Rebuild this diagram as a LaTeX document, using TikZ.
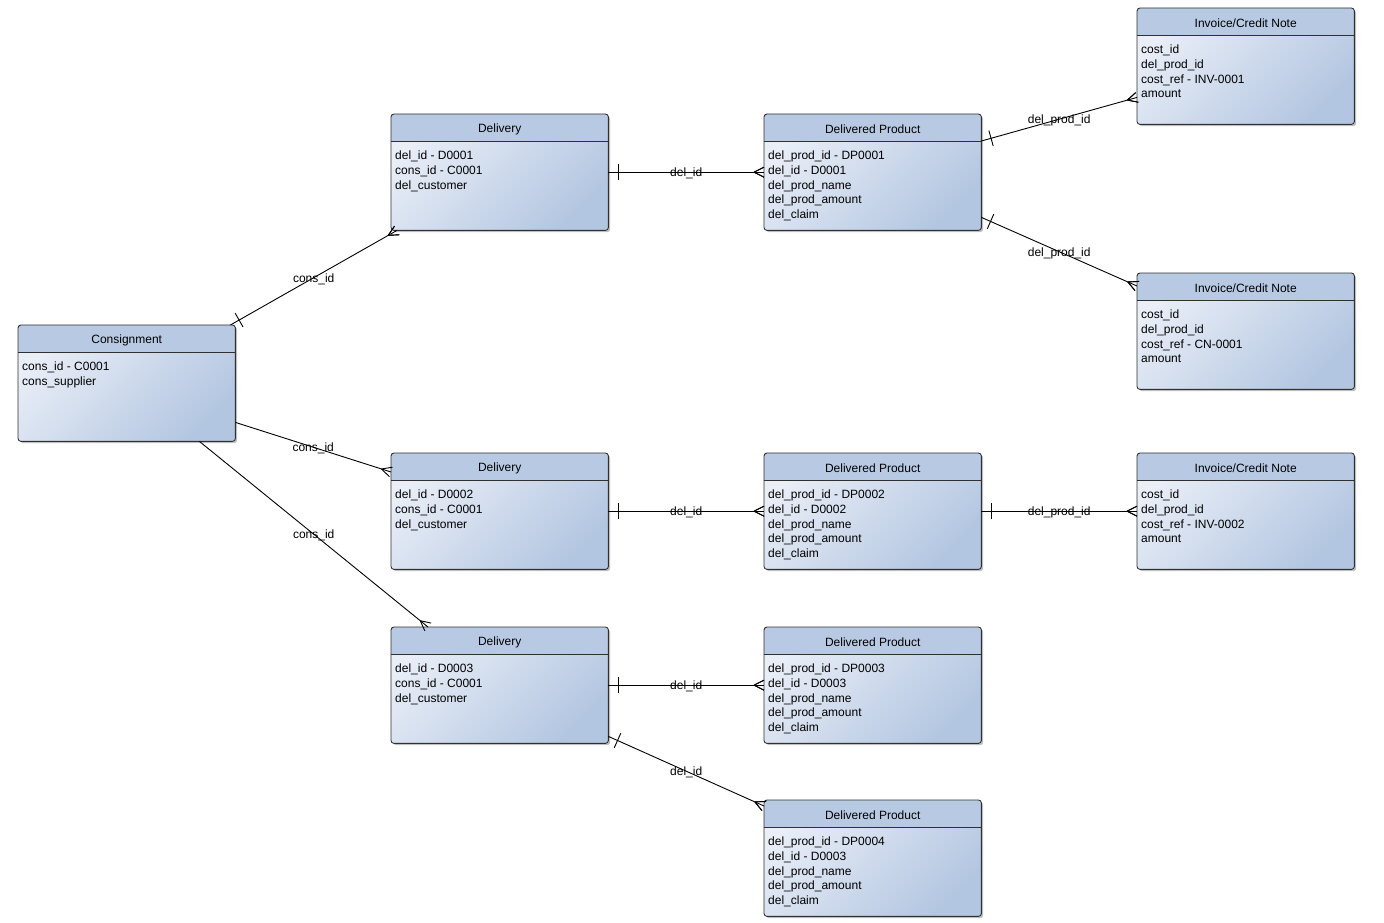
\documentclass[tikz,border=0pt]{standalone}
\usepackage{fontspec}
\setmainfont{Liberation Sans}
\usetikzlibrary{shadows,decorations.markings,positioning}

\definecolor{hdrblue}{HTML}{B8CAE3}
\definecolor{bodylight}{HTML}{E9EEF7}
\definecolor{bodydark}{HTML}{B3C6E1}
\definecolor{edgegrey}{HTML}{303030}

\newcommand\Entity[4]{
  \node[entity,anchor=north west] (#1) at #2 {};
  \fill[hdrblue,rounded corners=3pt] (#1.north west) rectangle ([yshift=-27pt]#1.north east);
  \fill[hdrblue] ([yshift=-10pt]#1.north west) rectangle ([yshift=-27pt]#1.north east);
  \draw[edgegrey,line width=0.9pt] ([yshift=-27pt]#1.north west) -- ([yshift=-27pt]#1.north east);
  \draw[edgegrey,line width=0.9pt,rounded corners=3pt] (#1.north west) rectangle (#1.south east);
  \node[title] (#1-t) at ([yshift=-15pt]#1.north) {#3};
  \node[attr] (#1-a) at ([xshift=4pt,yshift=-37pt]#1.north west) {#4};
}

\tikzset{
  entity/.style={rounded corners=3pt,minimum width=217pt,minimum height=116pt,inner sep=0pt,
    top color=bodylight,bottom color=bodydark,shading angle=45,
    drop shadow={shadow xshift=2pt,shadow yshift=-2pt,opacity=0.25,fill=black}},
  title/.style={font=\fontsize{12}{14}\selectfont,inner sep=0pt},
  attr/.style={anchor=north west,font=\fontsize{12}{14.6}\selectfont,align=left,inner sep=0pt},
  lbl/.style={font=\fontsize{12}{14}\selectfont,inner sep=0pt,yshift=-1.5pt},
  manyfoot/.style={draw=black,line width=0.9pt,postaction={decorate},
    decoration={markings,
      mark=at position -0.01pt with {\draw[line width=0.9pt] (-10pt,0) -- (0,5pt) (-10pt,0) -- (0,-5pt);}}},
  onemany/.style={manyfoot,postaction={decorate,
    decoration={markings,
      mark=at position 10pt with {\draw[line width=0.9pt] (0,-8pt) -- (0,8pt);}}}}
}

\begin{document}
\begin{tikzpicture}[x=1pt,y=-1pt]
\useasboundingbox (0,0) rectangle (1384,923);

\Entity{cons}{(18,325)}{Consignment}{cons\_id - C0001\\cons\_supplier}
\Entity{del1}{(391,114)}{Delivery}{del\_id - D0001\\cons\_id - C0001\\del\_customer}
\Entity{del2}{(391,453)}{Delivery}{del\_id - D0002\\cons\_id - C0001\\del\_customer}
\Entity{del3}{(391,627)}{Delivery}{del\_id - D0003\\cons\_id - C0001\\del\_customer}
\Entity{dp1}{(764,114)}{Delivered Product}{del\_prod\_id - DP0001\\del\_id - D0001\\del\_prod\_name\\del\_prod\_amount\\del\_claim}
\Entity{dp2}{(764,453)}{Delivered Product}{del\_prod\_id - DP0002\\del\_id - D0002\\del\_prod\_name\\del\_prod\_amount\\del\_claim}
\Entity{dp3}{(764,627)}{Delivered Product}{del\_prod\_id - DP0003\\del\_id - D0003\\del\_prod\_name\\del\_prod\_amount\\del\_claim}
\Entity{dp4}{(764,800)}{Delivered Product}{del\_prod\_id - DP0004\\del\_id - D0003\\del\_prod\_name\\del\_prod\_amount\\del\_claim}
\Entity{inv1}{(1137,8)}{Invoice/Credit Note}{cost\_id\\del\_prod\_id\\cost\_ref - INV-0001\\amount}
\Entity{inv2}{(1137,273)}{Invoice/Credit Note}{cost\_id\\del\_prod\_id\\cost\_ref - CN-0001\\amount}
\Entity{inv3}{(1137,453)}{Invoice/Credit Note}{cost\_id\\del\_prod\_id\\cost\_ref - INV-0002\\amount}

\draw[onemany] ([xshift=-5pt]cons.north east) -- node[lbl] (l1) {cons\_id} ([xshift=6pt]del1.south west);
\draw[manyfoot] ([yshift=19pt]cons.south east) -- node[lbl] (l2) {cons\_id} ([yshift=-19pt]del2.north west);
\draw[manyfoot] ([xshift=-36pt]cons.south east) -- node[lbl] (l3) {cons\_id} ([xshift=37pt]del3.north west);
\draw[onemany] (del1.east) -- node[lbl] (l4) {del\_id} (dp1.west);
\draw[onemany] (del2.east) -- node[lbl] (l5) {del\_id} (dp2.west);
\draw[onemany] (del3.east) -- node[lbl] (l6) {del\_id} (dp3.west);
\draw[onemany] ([yshift=7pt]del3.south east) -- node[lbl] (l7) {del\_id} ([yshift=-6pt]dp4.north west);
\draw[onemany] ([yshift=-27pt]dp1.north east) -- node[lbl] (l8) {del\_prod\_id} ([yshift=27pt]inv1.south west);
\draw[onemany] ([yshift=13pt]dp1.south east) -- node[lbl] (l9) {del\_prod\_id} ([yshift=-13pt]inv2.north west);
\draw[onemany] (dp2.east) -- node[lbl] (l10) {del\_prod\_id} (inv3.west);
\end{tikzpicture}
\end{document}
